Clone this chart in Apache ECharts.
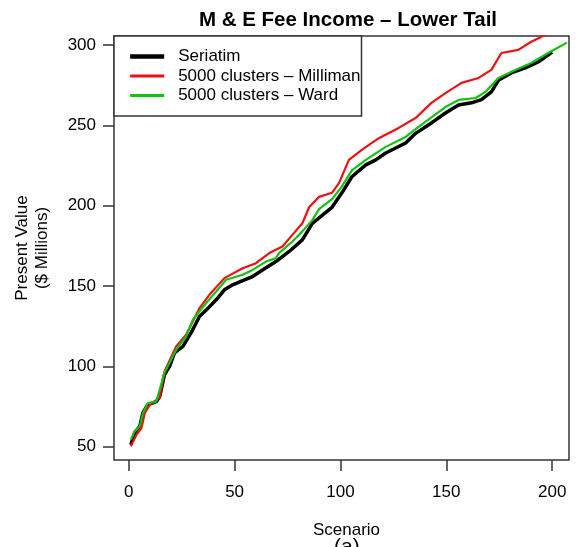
<!DOCTYPE html>
<html>
<head>
<meta charset="utf-8">
<script src="https://cdn.jsdelivr.net/npm/echarts@6/dist/echarts.min.js"></script>
<style>
html,body{margin:0;padding:0;background:#fff;}
#chart{width:579px;height:547px;}
</style>
</head>
<body>
<div id="chart"></div>
<script>
// ---- data ----
const titleText = 'M & E Fee Income \u2013 Lower Tail';
const seriesNames = ['Seriatim', '5000 clusters \u2013 Milliman', '5000 clusters \u2013 Ward'];

const seriatimX = [1, 2.8, 5.2, 6.7, 8.9, 13, 14.6, 16.9, 19.3, 21.6, 25.6, 29.5, 33.4, 36.6, 41.3, 45.2, 49.1, 53.8, 58.5, 63.2, 69.5, 75.8, 82, 86.7, 96, 100.7, 105.4, 112, 116.7, 121.4, 130.8, 135.5, 143, 149.6, 155.8, 161.9, 166.6, 171.3, 174.6, 180.7, 187.3, 193.4, 200];
const seriatimY = [51.2, 58.7, 62.6, 71, 76, 78, 81, 94.8, 100, 108.4, 112.4, 121, 131, 135, 141.4, 147.6, 150.7, 153.4, 155.9, 160, 165.2, 171.5, 178.7, 189, 199, 208, 218, 225.4, 228.5, 232.8, 239, 245, 251.5, 257.7, 262.7, 264, 266, 270.8, 278, 282.6, 285.7, 289.4, 295.6];

const millimanX = [1, 3.7, 6, 7.6, 9.9, 14.6, 16.9, 22.4, 27.1, 33.4, 38.1, 45.2, 53.8, 60.1, 66.4, 72.6, 77.3, 82, 85.2, 89.9, 96, 99.3, 104, 110.1, 118.1, 127.5, 135.5, 143, 149.6, 157.2, 165.2, 171.3, 176, 184, 190.1, 194.8, 197];
const millimanY = [50.2, 57.5, 61.6, 71, 76, 80.5, 96.8, 112.4, 119.6, 136.2, 144.5, 154.9, 161, 164.2, 170.5, 174.6, 181.8, 189, 199, 205.5, 208, 214, 228.5, 234.7, 242, 248.4, 254.6, 264, 270, 276.4, 279.5, 284.5, 295, 297, 302, 305, 307];

const wardX = [1, 2.8, 5.2, 6.7, 9, 13, 16.9, 22.4, 27.1, 30.3, 36.6, 41.3, 46, 53.8, 58.5, 64.8, 69.5, 71, 77.3, 82, 86.7, 90, 96, 100.7, 105.4, 112, 121.4, 130.8, 136.9, 143, 149.6, 155.8, 163.8, 168.5, 174.6, 182.6, 190.1, 198.1, 207];
const wardY = [54.4, 59.5, 62.6, 71, 77, 78, 96, 110.3, 118.6, 129, 139.4, 146.6, 153.9, 157, 160, 165.2, 167.3, 170.5, 177.7, 184, 191, 198, 204, 212, 222, 228.5, 236.6, 242.8, 249, 255, 261.4, 265.8, 267, 270.8, 279.5, 284.5, 288.8, 295, 301.5];

const xTicks = [0, 50, 100, 150, 200];
const yTicks = [50, 100, 150, 200, 250, 300];
const xRange = [-6.96, 207.96];
const yRange = [41.7, 305.6];

const zip = (xs, ys) => xs.map((x, i) => [x, ys[i]]);
const FONT = 'Liberation Sans, Arial, Helvetica, sans-serif';
const colors = ['#000000', '#ee1111', '#11c311'];
const widths = [3.5, 2.2, 2.2];

const chart = echarts.init(document.getElementById('chart'), null, {renderer: 'canvas'});
chart.setOption({
  animation: false,
  backgroundColor: '#fff',
  title: {
    text: titleText,
    left: 343,
    top: 5,
    textAlign: 'center',
    textStyle: {fontFamily: FONT, fontSize: 20.5, fontWeight: 'bold', color: '#000'}
  },
  grid: {
    left: 114, top: 36, width: 455, height: 424,
    show: true, borderColor: '#333', borderWidth: 1.5, backgroundColor: 'transparent',
    containLabel: false
  },
  legend: {
    orient: 'vertical',
    left: 114, top: 36,
    padding: [12, 1, 12, 14],
    itemWidth: 34, itemHeight: 14, itemGap: 2.5,
    borderColor: '#333', borderWidth: 1.5, backgroundColor: '#fff',
    selectedMode: false,
    itemStyle: {opacity: 0},
    data: seriesNames.map((n, i) => ({name: n, lineStyle: {width: widths[i] + 0.8, color: colors[i]}})),
    textStyle: {fontFamily: FONT, fontSize: 17, lineHeight: 17, color: '#000', padding: [0, 0, 0, 9]}
  },
  xAxis: {
    type: 'value',
    min: xRange[0], max: xRange[1],
    name: 'Scenario', nameLocation: 'middle', nameGap: 62,
    nameTextStyle: {fontFamily: FONT, fontSize: 17, color: '#000', padding: [0, 0, 0, 10]},
    axisLine: {show: false, onZero: false},
    splitLine: {show: false},
    axisTick: {show: true, inside: false, length: 11, customValues: xTicks, lineStyle: {color: '#333', width: 1.5}},
    axisLabel: {customValues: xTicks, margin: 24, fontFamily: FONT, fontSize: 17, color: '#000'}
  },
  yAxis: {
    type: 'value',
    min: yRange[0], max: yRange[1],
    name: 'Present Value\n($ Millions)', nameLocation: 'middle', nameGap: 62, nameRotate: 90,
    nameTextStyle: {fontFamily: FONT, fontSize: 17, lineHeight: 20, color: '#000'},
    axisLine: {show: false, onZero: false},
    splitLine: {show: false},
    axisTick: {show: true, inside: false, length: 11, customValues: yTicks, lineStyle: {color: '#333', width: 1.5}},
    axisLabel: {customValues: yTicks, margin: 18, fontFamily: FONT, fontSize: 17, color: '#000'}
  },
  series: [
    {name: seriesNames[0], type: 'line', data: zip(seriatimX, seriatimY), symbol: 'none', clip: true,
     lineStyle: {color: colors[0], width: widths[0]}, itemStyle: {color: colors[0]}, z: 2},
    {name: seriesNames[1], type: 'line', data: zip(millimanX, millimanY), symbol: 'none', clip: true,
     lineStyle: {color: colors[1], width: widths[1]}, itemStyle: {color: colors[1]}, z: 3},
    {name: seriesNames[2], type: 'line', data: zip(wardX, wardY), symbol: 'none', clip: true,
     lineStyle: {color: colors[2], width: widths[2]}, itemStyle: {color: colors[2]}, z: 4}
  ],
  graphic: [
    {type: 'text', left: 334, top: 537, style: {text: '(a)', fontFamily: FONT, fontSize: 21, fill: '#000'}}
  ]
});
</script>
</body>
</html>
